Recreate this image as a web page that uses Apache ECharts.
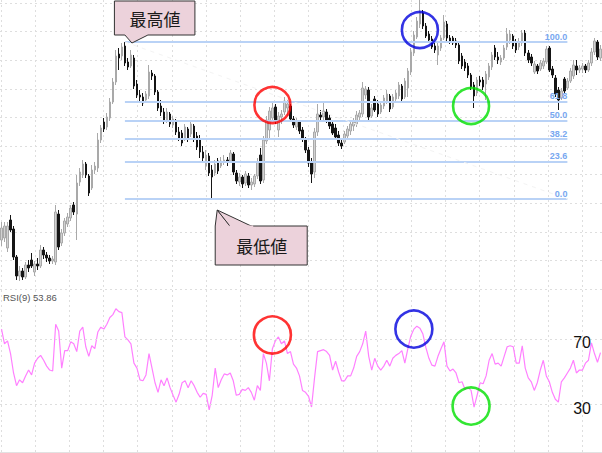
<!DOCTYPE html>
<html><head><meta charset="utf-8">
<script src="https://cdn.jsdelivr.net/npm/echarts@6/dist/echarts.min.js"></script>
<style>html,body{margin:0;padding:0;background:#fff}#c{width:602px;height:453px}</style>
</head><body><div id="c"></div>
<script>
// Price values (arbitrary price units)
const opens = [
49,51,41,69,60,32,13,18,12,24, 29,17,25,23,39,34,31,28,27,75,
46,56,65,71,84,75,107,114,125,113, 101,119,121,149,167,162,171,187,207,235,
233,243,227,223,231,205,194,192,189,193, 216,213,197,183,177,169,175,164,168,157,
156,150,160,155,163,153,149,137,123,133, 119,116,128,123,128,129,128,135,116,107,
112,106,113,104,105,113,134,109,148,159, 171,182,159,172,177,181,183,170,162,167,
159,150,139,127,117,157,174,172,177,171, 165,161,154,146,147,153,158,163,165,172,
175,194,199,173,190,185,177,183,188,193, 182,190,193,203,192,201,217,236,252,265,
276,263,255,250,243,234,241,251,265,251, 251,248,244,233,227,223,214,204,196,209,
209,205,212,222,241,232,227,231,242,249, 253,247,242,246,256,236,232,217,223,220,
223,227,241,220,211,199,191,210,201,208, 213,223,219,220,223,219,226,237,247,231];
const closes = [
61,63,63,59,32,13,18,12,24,21, 23,25,23,39,34,31,28,30,77,42,
56,68,72,81,77,106,117,125,114,96, 119,123,149,161,160,172,187,207,233,231,
242,226,222,234,203,194,192,186,195,217, 213,197,181,177,168,177,165,170,157,151,
146,162,150,165,150,142,137,131,134,116, 112,125,118,128,129,127,136,117,108,112,
105,115,104,107,113,127,108,149,169,178, 181,168,173,175,188,185,170,164,168,158,
150,139,126,115,157,175,172,178,169,163, 156,152,146,143,155,160,165,167,174,176,
201,200,172,181,179,175,184,191,195,180, 192,196,204,190,208,218,237,254,268,277,
263,253,249,242,239,243,251,267,251,248, 246,244,228,223,221,214,202,193,209,207,
202,215,223,234,232,229,231,241,255,255, 243,239,247,256,236,229,226,225,218,226,
228,240,219,214,195,189,198,198,208,218, 224,219,221,223,219,226,237,248,232,240];
const lows = [
43,47,37,57,29,9,8,9,10,17, 21,13,19,21,30,27,25,25,24,39,
43,53,62,68,74,49,103,111,111,93, 99,115,117,146,157,159,168,185,204,219,
229,223,219,221,200,191,188,183,186,190, 209,194,178,173,165,166,162,161,154,148,
143,148,147,152,147,139,131,127,119,113, 90,113,115,121,124,123,126,114,105,103,
101,103,101,99,102,110,105,106,145,151, 167,165,152,165,174,173,167,161,159,155,
147,136,122,106,111,153,169,169,166,160, 154,149,143,140,145,150,154,158,162,167,
172,190,169,171,177,172,175,180,185,177, 180,187,190,187,190,192,214,233,250,261,
260,251,246,240,236,224,238,249,248,245, 244,241,225,220,218,211,199,181,193,203,
199,189,209,219,229,225,224,229,239,245, 240,236,239,243,233,226,223,215,215,218,
220,225,217,211,192,179,189,195,199,206, 210,214,216,216,216,217,223,234,229,228];
const highs = [
67,67,67,74,63,34,23,21,27,29, 36,28,31,44,42,37,34,33,84,79,
60,71,76,84,87,114,121,129,127,115, 124,127,156,164,171,176,191,211,239,241,
246,247,231,239,234,209,199,196,198,224, 219,215,199,189,181,181,177,173,170,162,
159,165,162,169,165,157,154,143,139,136, 124,129,131,132,134,132,139,137,119,116,
114,118,116,111,115,131,141,153,173,182, 186,185,177,179,192,189,185,173,171,169,
162,152,142,131,161,185,179,186,180,175, 169,165,158,150,158,163,168,171,178,179,
207,203,202,185,193,189,187,194,199,195, 195,199,207,205,211,221,241,258,272,289,
279,266,258,253,247,246,254,274,268,254, 253,251,246,236,230,226,216,207,212,213,
212,218,226,237,244,237,234,244,261,259, 255,250,251,259,259,239,235,228,225,229,
231,243,243,223,214,202,201,212,211,221, 229,229,224,226,225,229,241,251,249,244];
// RSI(9)
const rsi = [
76.0,67.0,68.8,61.0,49.1,41.3,44.9,43.1,47.3,50.9, 47.9,55.1,58.1,59.9,56.9,53.3,50.9,50.3,79.0,74.8,
52.1,62.8,62.8,68.2,67.0,62.2,74.8,77.2,65.2,59.3, 65.8,64.0,74.2,77.2,76.0,79.0,83.1,84.9,88.5,86.7,
86.1,71.2,69.4,67.0,55.1,52.1,44.9,44.3,47.9,61.0, 52.1,43.1,37.2,44.9,41.3,46.1,40.1,35.4,31.2,36.0,
43.1,44.3,40.1,44.3,41.3,37.2,34.2,36.6,36.0,26.4, 35.4,52.1,40.1,44.9,48.5,47.9,49.1,44.3,35.4,36.0,
39.0,38.4,40.1,37.2,32.4,41.3,38.4,61.0,55.1,44.3, 64.0,68.8,71.2,67.0,68.8,61.0,62.2,54.5,52.1,47.3,
38.4,37.2,34.8,28.2,46.1,62.2,62.8,63.4,62.2,59.9, 50.9,56.3,49.7,44.3,44.3,47.3,47.3,52.1,59.3,62.2,
67.0,74.8,59.3,50.9,58.1,53.3,50.9,53.3,56.9,53.3, 58.1,59.9,61.0,62.8,55.1,64.0,71.8,76.0,77.8,76.6,
73.0,64.6,58.1,53.9,53.3,59.3,64.0,68.2,53.3,50.3, 51.5,49.1,43.1,43.7,39.0,40.1,38.4,28.2,35.4,43.1,
42.5,47.3,56.9,61.0,54.5,55.1,53.3,59.3,65.2,65.8, 65.2,55.1,55.1,65.8,52.1,46.1,43.7,38.4,43.1,50.9,
56.9,47.3,43.7,37.2,33.0,31.2,43.7,46.1,49.1,52.1, 56.9,49.1,50.9,50.9,55.1,56.9,67.6,61.0,55.7,61.6];
const categories = opens.map((_, i) => String(i + 1));

// Fibonacci retracement
const fibLevels = [100, 61.8, 50, 38.2, 23.6, 0];
const fibLabels = ['100.0', '61.8', '50.0', '38.2', '23.6', '0.0'];
const fibHighIndex = 41, fibHigh = 247;
const fibLowIndex = 70, fibLow = 90;
const fibEndIndex = 188;

// RSI levels
const rsiLevels = [70, 30];
const rsiLevelLabels = ['70', '30'];
const rsiTitle = 'RSI(9) 53.86';

// Annotations
const highLabel = '最高値';
const lowLabel = '最低値';
const priceCircles = [[90, 184], [139, 259], [156, 183]];
const rsiCircles = [[90, 72.4], [137, 76.0], [156, 28.8]];
const circleColors = ['#ff0000', '#0000dd', '#00e000'];

const gridLineStyle = { color: '#dedede', type: [2, 3], width: 1 };

const chart = echarts.init(document.getElementById('c'), null, { renderer: 'svg' });

const candleData = opens.map((o, i) => [o, closes[i], lows[i], highs[i]]);

const fibLines = fibLevels.map((p, k) => {
  const v = fibLow + (fibHigh - fibLow) * p / 100;
  return [
    { coord: [fibHighIndex, v], label: { formatter: fibLabels[k] } },
    { coord: [fibEndIndex, v] }
  ];
});
fibLines.push([
  { coord: [fibHighIndex, fibHigh], lineStyle: { type: [4, 5], color: '#f3f3f3', width: 1 }, label: { show: false } },
  { coord: [fibEndIndex, fibLow] }
]);

const circleItems = (arr) => arr.map((d, k) => ({
  value: d,
  itemStyle: { color: 'rgba(0,0,0,0)', borderColor: circleColors[k], borderWidth: 2.6 }
}));

chart.setOption({
  animation: false,
  backgroundColor: '#ffffff',
  grid: [
    { left: 0, width: 602, top: 3, height: 286 },
    { left: 0, width: 602, top: 290, height: 167.5 },
    { left: 0.8, width: 601.2, top: 0, height: 453 }
  ],
  xAxis: [
    { type: 'category', gridIndex: 0, data: categories, boundaryGap: true, show: false },
    { type: 'category', gridIndex: 1, data: categories, boundaryGap: true, position: 'top',
      axisLine: { show: true, lineStyle: { color: '#d9d9d9', width: 1.5 } },
      axisTick: { show: false }, axisLabel: { show: false }, splitLine: { show: false } },
    { type: 'value', gridIndex: 2, min: 0, max: 17.58, interval: 1,
      axisLine: { show: false }, axisTick: { show: false }, axisLabel: { show: false },
      splitLine: { show: true, lineStyle: gridLineStyle } }
  ],
  yAxis: [
    { type: 'value', gridIndex: 0, min: 0, max: 286, interval: 28.6,
      axisLine: { show: false }, axisTick: { show: false }, axisLabel: { show: false },
      splitLine: { show: true, lineStyle: gridLineStyle } },
    { type: 'value', gridIndex: 1, min: 0, max: 100, show: false },
    { type: 'value', gridIndex: 2, min: 0, max: 1, show: false }
  ],
  series: [
    {
      type: 'line', xAxisIndex: 0, yAxisIndex: 0, data: [], z: 1, silent: true,
      markLine: {
        silent: true, symbol: ['none', 'none'], animation: false,
        lineStyle: { color: '#b9d2f6', width: 2, type: 'solid' },
        label: { show: true, position: 'insideEndTop', distance: [0, 1], color: '#78a7f0', fontSize: 9,
                 fontFamily: 'Liberation Sans, Arial, sans-serif', fontWeight: 'bold' },
        emphasis: { disabled: true },
        data: fibLines
      }
    },
    {
      type: 'candlestick', xAxisIndex: 0, yAxisIndex: 0, data: candleData, z: 2, clip: false,
      barWidth: 2,
      itemStyle: { color: '#d2d2d2', color0: '#151515', borderColor: '#a9a9a9', borderColor0: '#151515', borderWidth: 1 }
    },
    {
      type: 'scatter', xAxisIndex: 0, yAxisIndex: 0, z: 5, symbol: 'circle', symbolSize: 36, silent: true,
      data: circleItems(priceCircles)
    },
    {
      type: 'line', xAxisIndex: 1, yAxisIndex: 1, data: rsi, symbol: 'none', z: 2,
      lineStyle: { color: '#ff80ff', width: 1.2 },
      markLine: {
        silent: true, symbol: ['none', 'none'], animation: false,
        lineStyle: gridLineStyle, label: { show: false },
        data: rsiLevels.map(v => ({ yAxis: v }))
      }
    },
    {
      type: 'scatter', xAxisIndex: 1, yAxisIndex: 1, z: 5, symbol: 'circle', symbolSize: 37, silent: true,
      data: circleItems(rsiCircles)
    }
  ]
});

const hi = chart.convertToPixel({ xAxisIndex: 0, yAxisIndex: 0 }, [fibHighIndex, fibHigh]);
const lo = chart.convertToPixel({ xAxisIndex: 0, yAxisIndex: 0 }, [fibLowIndex, fibLow]);
const cjk = '"Noto Sans CJK JP", "Noto Sans CJK SC", sans-serif';
const graphics = [];
// High callout
graphics.push({
  type: 'polygon', z: 20,
  shape: { points: [
    [hi[0] - 10.5, hi[1] - 41], [hi[0] + 70, hi[1] - 41], [hi[0] + 70, hi[1] - 7],
    [hi[0] + 23, hi[1] - 7], [hi[0] + 7, hi[1] + 1], [hi[0], hi[1] - 7], [hi[0] - 10.5, hi[1] - 7]
  ] },
  style: { fill: '#ecd2db', stroke: '#333333', lineWidth: 1 }
});
graphics.push({
  type: 'text', z: 21,
  style: { text: highLabel, x: hi[0] + 30, y: hi[1] - 23.5, fill: '#1a1a1a', fontSize: 17,
           fontFamily: cjk, align: 'center', verticalAlign: 'middle', textAlign: 'center', textVerticalAlign: 'middle' }
});
// Low callout
graphics.push({
  type: 'polygon', z: 20,
  shape: { points: [
    [lo[0] + 3, lo[1] + 27], [lo[0] + 5, lo[1] + 11], [lo[0] + 18, lo[1] + 27],
    [lo[0] + 40, lo[1] + 27], [lo[0] + 95, lo[1] + 27], [lo[0] + 95, lo[1] + 66], [lo[0] + 3, lo[1] + 66]
  ] },
  style: { fill: '#ecd2db', stroke: '#333333', lineWidth: 1 }
});
graphics.push({
  type: 'polygon', z: 20,
  shape: { points: [[lo[0] + 5, lo[1] + 11], [lo[0] + 40, lo[1] + 27.5], [lo[0] + 18, lo[1] + 27.5]] },
  style: { fill: '#ecd2db', stroke: '#333333', lineWidth: 1 }
});
graphics.push({
  type: 'rect', z: 21,
  shape: { x: lo[0] + 17, y: lo[1] + 26.5, width: 24, height: 2 },
  style: { fill: '#ecd2db' }
});
graphics.push({
  type: 'text', z: 22,
  style: { text: lowLabel, x: lo[0] + 49.5, y: lo[1] + 46.5, fill: '#1a1a1a', fontSize: 17,
           fontFamily: cjk, align: 'center', verticalAlign: 'middle', textAlign: 'center', textVerticalAlign: 'middle' }
});
// RSI title
graphics.push({
  type: 'text', z: 21,
  style: { text: rsiTitle, x: 3, y: 297.5, fill: '#555555', fontSize: 9.5,
           fontFamily: 'Liberation Sans, Arial, sans-serif', align: 'left', verticalAlign: 'middle', textAlign: 'left', textVerticalAlign: 'middle' }
});
// RSI level labels
rsiLevels.forEach((v, k) => {
  const y = chart.convertToPixel({ yAxisIndex: 1 }, v);
  graphics.push({
    type: 'text', z: 21,
    style: { text: rsiLevelLabels[k], x: 591, y: y + 4, fill: '#111111', fontSize: 16,
             fontFamily: 'Liberation Sans, Arial, sans-serif', align: 'right', verticalAlign: 'middle', textAlign: 'right', textVerticalAlign: 'middle' }
  });
});
chart.setOption({ graphic: graphics });
</script>
</body></html>
